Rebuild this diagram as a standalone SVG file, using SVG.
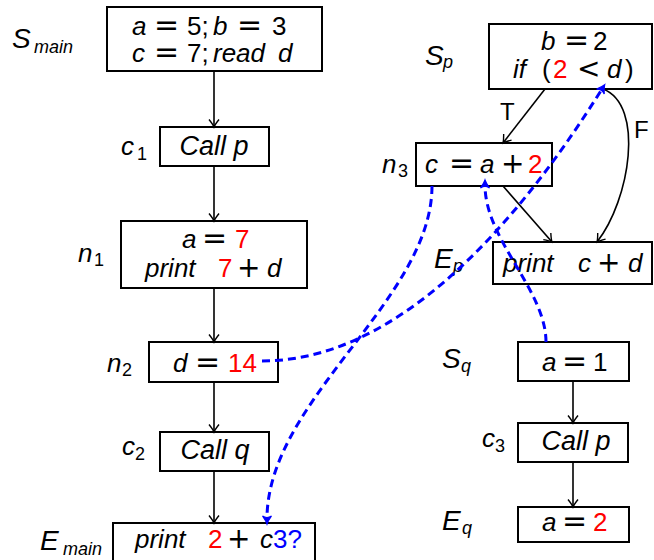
<svg xmlns="http://www.w3.org/2000/svg" width="654" height="560" viewBox="0 0 654 560">
<defs>
<style>
text { font-family: "Liberation Sans", Arial, sans-serif; font-size: 26px; fill: #000; }
.i { font-style: italic; }
.op { font-family: "DejaVu Sans", sans-serif; font-size: 28px; font-style: normal; }
.eq { font-family: "DejaVu Sans", sans-serif; font-size: 30px; font-style: normal; }
.r { fill: #ff0000; }
.b { fill: #0000ff; }
.sub { font-size: 18px; }
.lab { font-size: 28px; }
.call { font-size: 27px; font-style: italic; text-anchor: middle; }
.tf { font-size: 24px; }
.box { fill: #fff; stroke: #000; stroke-width: 2; }
.edge { fill: none; stroke: #000; stroke-width: 1.6; marker-end: url(#ah); }
.dep { fill: none; stroke: #0000ff; stroke-width: 3; stroke-dasharray: 8 5; marker-end: url(#bh); }
</style>
<marker id="ah" viewBox="-10 -6 12 12" refX="0" refY="0" markerWidth="12" markerHeight="12" markerUnits="userSpaceOnUse" orient="auto">
<path d="M -7.5 -5 Q -2.5 -1 0 0 Q -2.5 1 -7.5 5" fill="none" stroke="#000" stroke-width="1.4"/>
</marker>
<marker id="bh" viewBox="-6 -7 14 14" refX="0" refY="0" markerWidth="14" markerHeight="14" markerUnits="userSpaceOnUse" orient="auto">
<path d="M -3 -4.5 Q 2 -1 5 0 Q 2 1 -3 4.5 Q 0 0 -3 -4.5 Z" fill="#0000ff" stroke="#0000ff" stroke-width="1.2"/>
</marker>
</defs>

<g id="S_main">
<rect class="box" x="107" y="7" width="215" height="64"/>
<text y="35"><tspan x="132" class="i">a</tspan> <tspan x="154" class="eq">=</tspan> <tspan x="187">5;</tspan> <tspan x="213" class="i">b</tspan> <tspan x="237" class="eq">=</tspan> <tspan x="272">3</tspan></text>
<text y="62"><tspan x="132" class="i">c</tspan> <tspan x="154" class="eq">=</tspan> <tspan x="187">7;</tspan> <tspan x="213" class="i">read</tspan> <tspan x="278" class="i">d</tspan></text>
<text y="48" class="i lab"><tspan x="12">S</tspan><tspan x="34" class="sub" dy="5">main</tspan></text>
</g>

<g id="c1">
<rect class="box" x="160" y="127" width="109" height="39"/>
<text x="214" y="155" class="call">Call p</text>
<text y="155" class="i"><tspan x="121">c</tspan><tspan x="137" class="sub" dy="5" font-style="normal">1</tspan></text>
</g>

<g id="n1">
<rect class="box" x="121" y="221" width="186" height="67"/>
<text y="248"><tspan x="182" class="i">a</tspan> <tspan x="202" class="eq">=</tspan> <tspan x="235" class="r">7</tspan></text>
<text y="277"><tspan x="145" class="i">print</tspan> <tspan x="218" class="r">7</tspan> <tspan x="237" class="op">+</tspan> <tspan x="267" class="i">d</tspan></text>
<text y="262" class="i"><tspan x="78">n</tspan><tspan x="94" class="sub" dy="4" font-style="normal">1</tspan></text>
</g>

<g id="n2">
<rect class="box" x="149" y="342" width="129" height="40"/>
<text y="372"><tspan x="173" class="i">d</tspan> <tspan x="195" class="eq">=</tspan> <tspan x="228" class="r">14</tspan></text>
<text y="372" class="i"><tspan x="107">n</tspan><tspan x="122" class="sub" dy="4" font-style="normal">2</tspan></text>
</g>

<g id="c2">
<rect class="box" x="160" y="432" width="109" height="39"/>
<text x="215" y="459" class="call">Call q</text>
<text y="455" class="i"><tspan x="122">c</tspan><tspan x="135" class="sub" dy="5" font-style="normal">2</tspan></text>
</g>

<g id="E_main">
<rect class="box" x="113" y="523" width="202" height="50"/>
<text y="548"><tspan x="135" class="i">print</tspan> <tspan x="208" class="r">2</tspan> <tspan x="227" class="op">+</tspan> <tspan x="260" class="i">c</tspan><tspan x="273" class="b">3?</tspan></text>
<text y="550" class="i lab"><tspan x="40">E</tspan><tspan x="63" class="sub" dy="5">main</tspan></text>
</g>

<g id="S_p">
<rect class="box" x="489" y="24" width="163" height="65"/>
<text y="50"><tspan x="541" class="i">b</tspan> <tspan x="564" class="eq">=</tspan> <tspan x="593">2</tspan></text>
<text y="78"><tspan x="513" class="i">if</tspan> <tspan x="542">(</tspan><tspan x="553" class="r">2</tspan> <tspan x="577" class="op">&lt;</tspan> <tspan x="607" class="i">d</tspan><tspan x="625">)</tspan></text>
<text y="65" class="i lab"><tspan x="425">S</tspan><tspan x="443" class="sub" dy="3">p</tspan></text>
</g>

<g id="n3">
<rect class="box" x="416" y="143" width="136" height="43"/>
<text y="173"><tspan x="425" class="i">c</tspan> <tspan x="449" class="eq">=</tspan> <tspan x="480" class="i">a</tspan> <tspan x="501" class="op">+</tspan> <tspan x="528" class="r">2</tspan></text>
<text y="173" class="i"><tspan x="382">n</tspan><tspan x="398" class="sub" dy="4" font-style="normal">3</tspan></text>
</g>

<g id="E_p">
<rect class="box" x="493" y="242" width="159" height="42"/>
<text y="272"><tspan x="503" class="i">print</tspan> <tspan x="578" class="i">c</tspan> <tspan x="597" class="op">+</tspan> <tspan x="628" class="i">d</tspan></text>
<text y="268" class="i lab"><tspan x="434">E</tspan><tspan x="453" class="sub" dy="4">p</tspan></text>
</g>

<g id="S_q">
<rect class="box" x="518" y="342" width="111" height="39"/>
<text y="371"><tspan x="542" class="i">a</tspan> <tspan x="562" class="eq">=</tspan> <tspan x="593">1</tspan></text>
<text y="368" class="i lab"><tspan x="442">S</tspan><tspan x="461" class="sub" dy="4">q</tspan></text>
</g>

<g id="c3">
<rect class="box" x="518" y="423" width="110" height="39"/>
<text x="576" y="450" class="call">Call p</text>
<text y="447" class="i"><tspan x="482">c</tspan><tspan x="495" class="sub" dy="5" font-style="normal">3</tspan></text>
</g>

<g id="E_q">
<rect class="box" x="518" y="507" width="111" height="35"/>
<text y="531"><tspan x="542" class="i">a</tspan> <tspan x="562" class="eq">=</tspan> <tspan x="593" class="r">2</tspan></text>
<text y="530" class="i lab"><tspan x="442">E</tspan><tspan x="462" class="sub" dy="4">q</tspan></text>
</g>

<g id="connectors">
<path class="edge" d="M214 71 V127"/>
<path class="edge" d="M214 166 V221"/>
<path class="edge" d="M214 288 V342"/>
<path class="edge" d="M214 382 V432"/>
<path class="edge" d="M214 471 V523"/>
<path class="edge" d="M545 89 L503 143"/>
<path class="edge" d="M503 186 L552 242"/>
<path class="edge" d="M603 89 C645 105 630 200 597 242"/>
<path class="edge" d="M573 381 V423"/>
<path class="edge" d="M573 462 V507"/>
<text x="500" y="120" class="tf">T</text>
<text x="634" y="138" class="tf">F</text>
<path class="dep" d="M262 361 C400 361 520 220 602 89"/>
<path class="dep" d="M432 186 C432 300 267 400 267 519"/>
<path class="dep" d="M546 342 C546 290 485 240 485 185"/>
</g>
</svg>
